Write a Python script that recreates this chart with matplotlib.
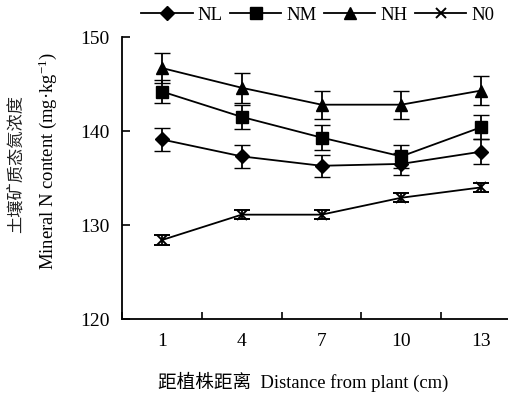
import matplotlib
matplotlib.use("Agg")
import matplotlib.pyplot as plt
from matplotlib.lines import Line2D
import numpy as np

plt.rcParams['font.family'] = ['Liberation Serif', 'Noto Sans CJK SC']
plt.rcParams['mathtext.fontset'] = 'custom'
plt.rcParams['mathtext.rm'] = 'Liberation Serif'
plt.rcParams['mathtext.it'] = 'Liberation Serif:italic'

categories = ['1', '4', '7', '10', '13']
NL = [139.1, 137.3, 136.3, 136.5, 137.8]
NL_err = [1.25, 1.2, 1.15, 1.2, 1.3]
NM = [144.2, 141.5, 139.3, 137.3, 140.4]
NM_err = [1.2, 1.3, 1.3, 1.2, 1.3]
NH = [146.7, 144.6, 142.8, 142.8, 144.3]
NH_err = [1.6, 1.6, 1.5, 1.5, 1.5]
N0 = [128.4, 131.1, 131.1, 132.9, 134.0]
N0_err = [0.5, 0.5, 0.5, 0.5, 0.5]

fig = plt.figure(figsize=(5.08, 3.94), dpi=100)
ax = fig.add_axes([122/508, 1-319/394, (521-122)/508, (319-37)/394])
x = np.arange(len(categories))

series = [('NL', NL, NL_err, 'D', 7.5), ('NM', NM, NM_err, 's', 8),
          ('NH', NH, NH_err, '^', 9), ('N0', N0, N0_err, 'x', 7)]
for name, vals, err, mk, ms in series:
    ax.errorbar(x, vals, yerr=err, color='black', marker=mk, markersize=ms,
                markeredgewidth=1.4 if mk == 'x' else 1.0, lw=1.3,
                elinewidth=1.3, capsize=6, capthick=1.3, label=name)

ax.set_xlim(-0.5, 4.5)
ax.set_ylim(120, 150)
ax.set_yticks([120, 130, 140, 150])
ax.set_xticks(np.arange(-0.5, 5.0, 1.0))
ax.set_xticklabels([])
ax.set_xticks(x, minor=True)
ax.set_xticklabels(categories, minor=True)
ax.tick_params(axis='x', which='major', direction='in', length=5, width=1.2)
ax.tick_params(axis='x', which='minor', length=0, pad=10, labelsize=14)
ax.tick_params(axis='y', direction='in', length=6, width=1.2, labelsize=14, pad=9)
for s in ['top', 'right']:
    ax.spines[s].set_visible(False)
for s in ['left', 'bottom']:
    ax.spines[s].set_linewidth(1.3)

leg_handles = [Line2D([0], [0], color='black', lw=1.3, marker=mk, markersize=ms,
                      markeredgewidth=1.4 if mk == 'x' else 1.0)
               for name, vals, err, mk, ms in series]
fig.legend(leg_handles, [s[0] for s in series], loc='center left',
           bbox_to_anchor=(141/508, 1-15/394),
           ncol=4, frameon=False, fontsize=13.5, handlelength=2.75, columnspacing=0.4,
           handletextpad=0.25, borderaxespad=0, borderpad=0)

fig.text(16/508, 1-164/394, '土壤矿质态氮浓度', rotation=90, ha='center', va='center',
         fontsize=12.4, family=['Noto Sans CJK SC'], color='#222222')
fig.text(48/508, 1-161/394, 'Mineral N content (mg·kg$^{-1}$)', rotation=90, ha='center',
         va='center', fontsize=13.4)
fig.text(303/508, 1-382/394, '距植株距离  Distance from plant (cm)', ha='center', va='center',
         fontsize=13.4)

fig.savefig('out.png', dpi=100)
